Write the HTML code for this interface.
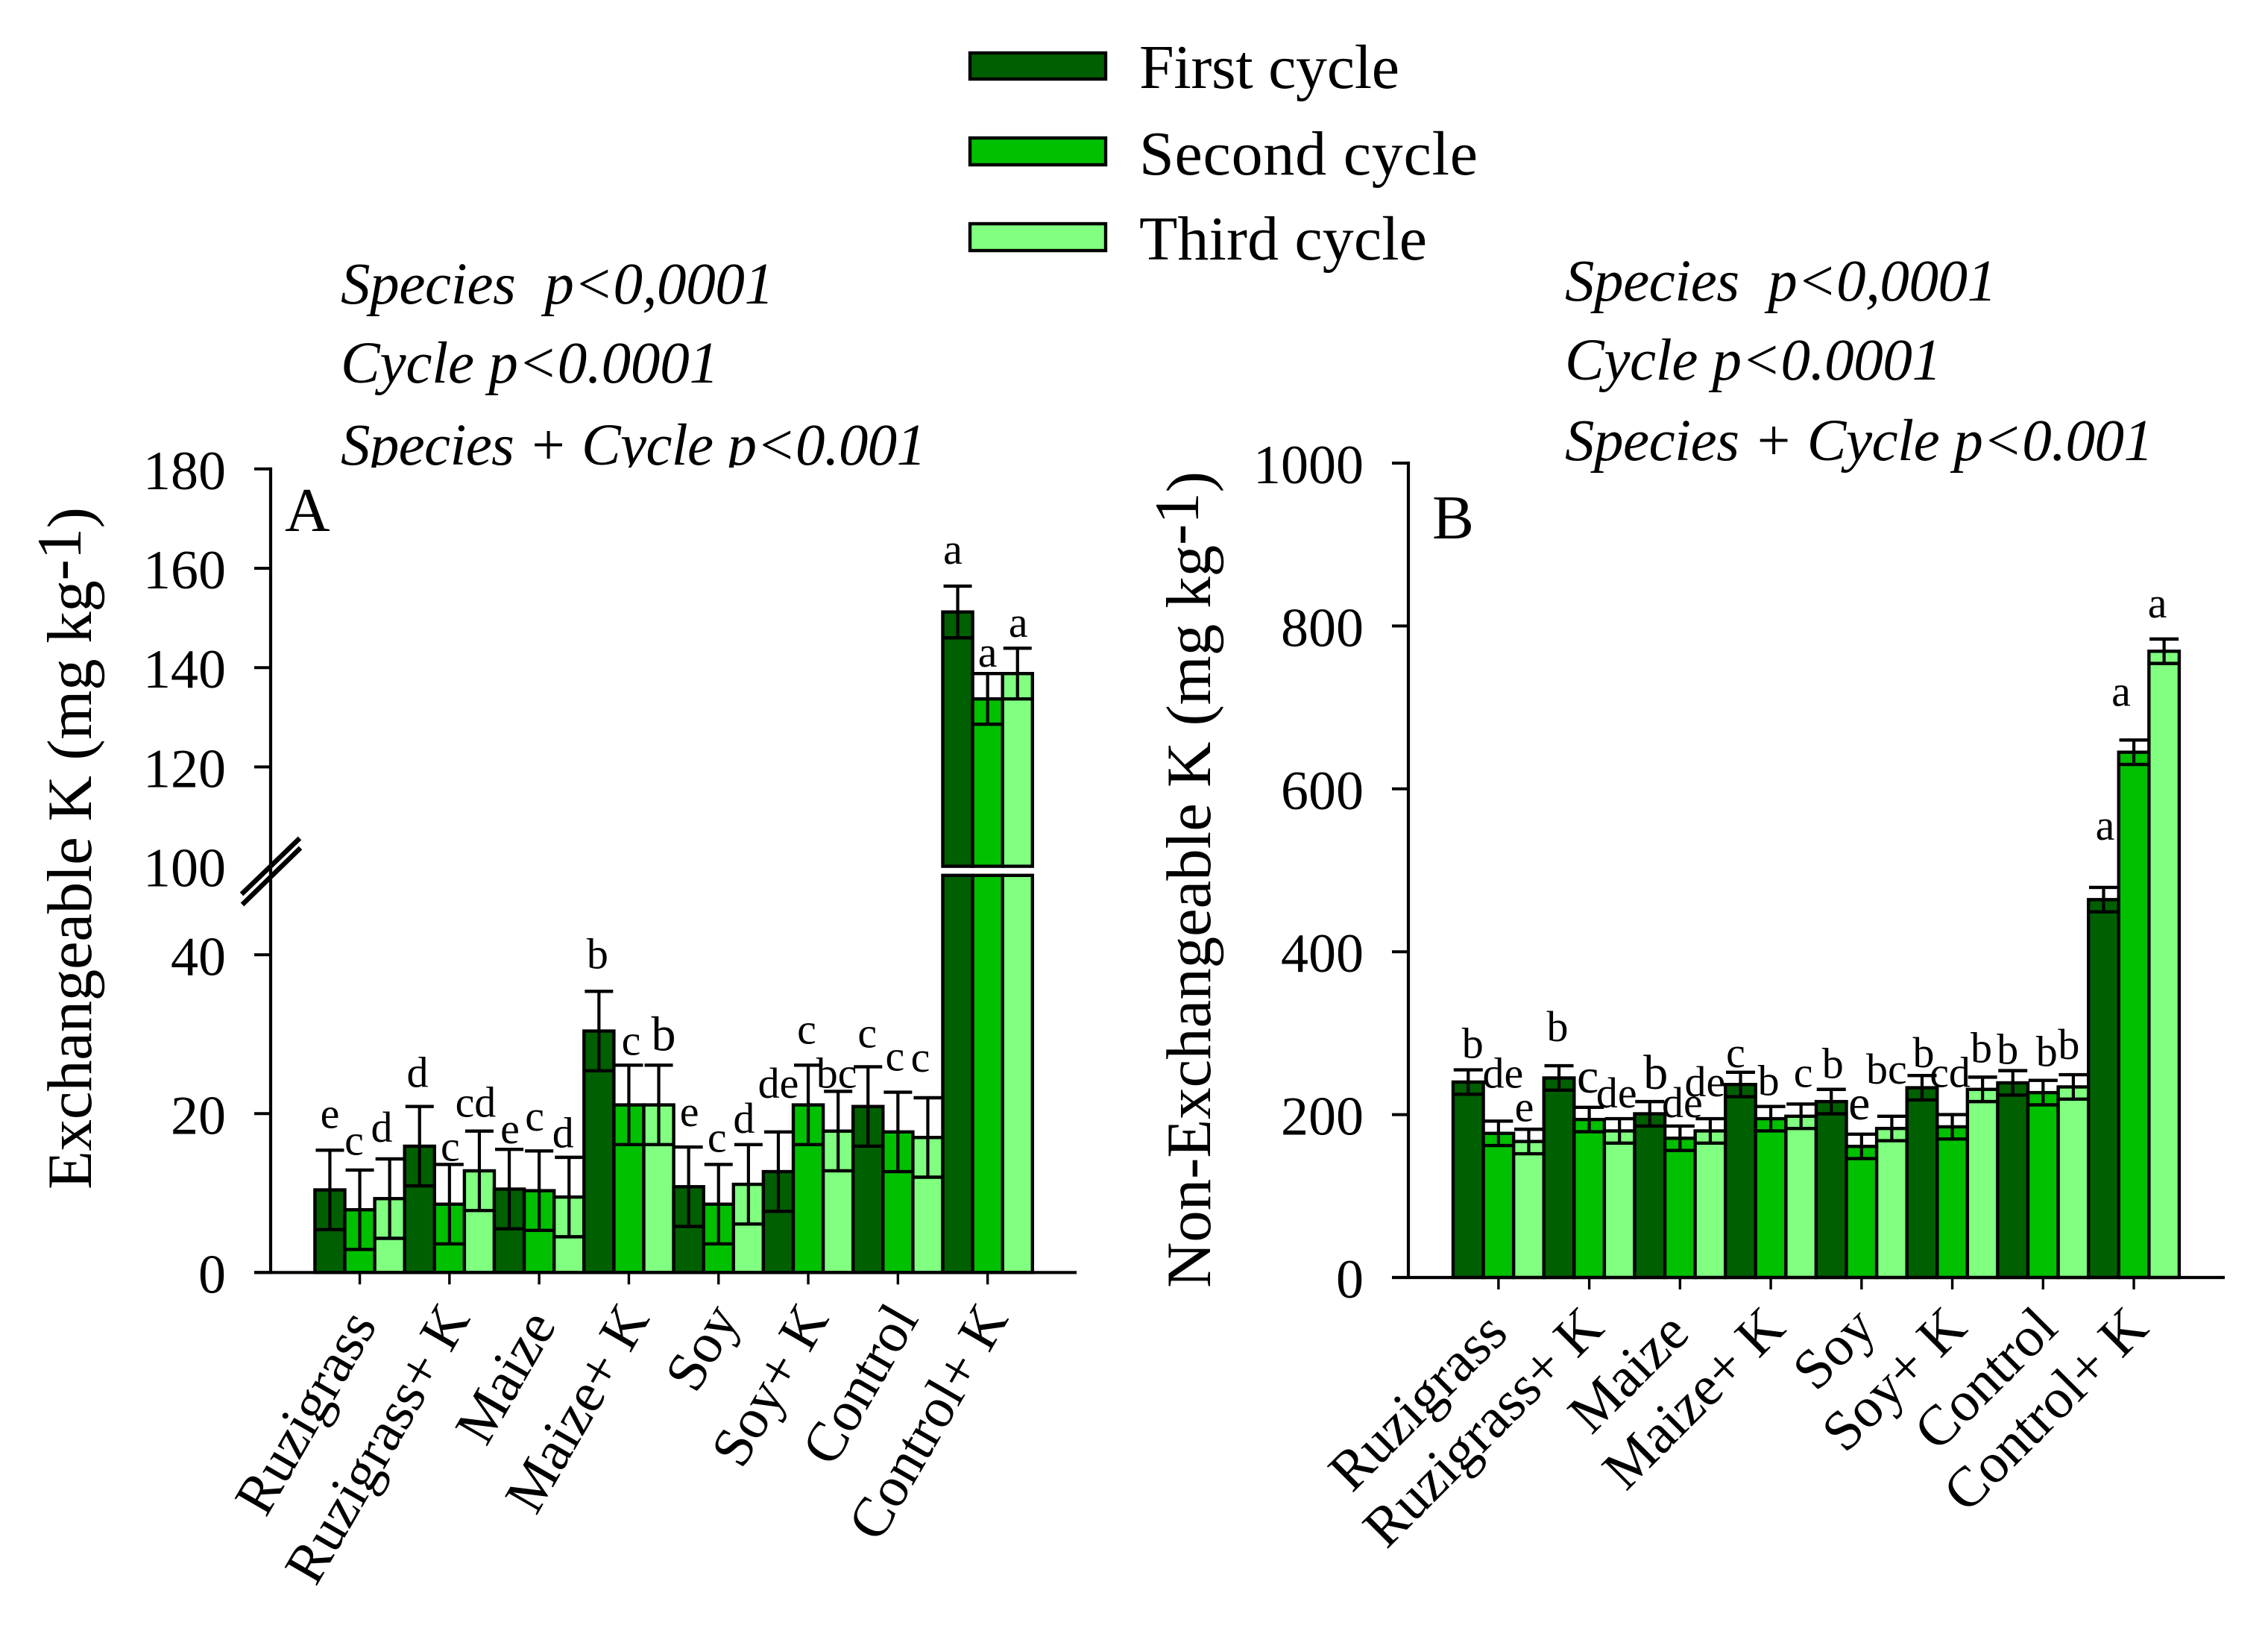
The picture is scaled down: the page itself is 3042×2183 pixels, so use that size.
<!DOCTYPE html>
<html lang="en">
<head>
<meta charset="utf-8">
<title>Exchangeable and non-exchangeable K by species and cycle</title>
<style>
  html, body { margin: 0; padding: 0; background: #fff; }
  svg { display: block; }
  text { font-family: "Liberation Serif", serif; fill: #000; }
  .note { font-size: 79px; font-style: italic; }
  .legend-text { font-size: 84px; }
  .axis-title { font-size: 85px; }
  .panel-letter { font-size: 84px; }
</style>
</head>
<body>
<svg id="chart" xmlns="http://www.w3.org/2000/svg" width="3042" height="2183" viewBox="0 0 3042 2183">
  <rect x="0" y="0" width="3042" height="2183" fill="#ffffff"/>
  <defs>
    <clipPath id="note-clip"><rect x="400" y="500" width="1000" height="127"/></clipPath>
  </defs>

  <g>
    <g>
      <rect x="1301" y="71" width="182" height="35" fill="#005F00" stroke="#000" stroke-width="4.4"/>
      <text class="legend-text" x="1528" y="118" textLength="349">First cycle</text>
    </g>
    <g>
      <rect x="1301" y="185" width="182" height="36" fill="#00C000" stroke="#000" stroke-width="4.4"/>
      <text class="legend-text" x="1528" y="234" textLength="454">Second cycle</text>
    </g>
    <g>
      <rect x="1301" y="300" width="182" height="36" fill="#80FF80" stroke="#000" stroke-width="4.4"/>
      <text class="legend-text" x="1528" y="348" textLength="386">Third cycle</text>
    </g>
  </g>

  <g>
    <text class="note" x="457" y="407" textLength="581">Species&#160;&#160;p&lt;0,0001</text>
    <text class="note" x="457" y="513" textLength="507">Cycle p&lt;0.0001</text>
    <g clip-path="url(#note-clip)">
      <text class="note" x="457" y="623" textLength="785">Species + Cycle p&lt;0.001</text>
    </g>
  </g>
  <g>
    <text class="note" x="2099" y="403" textLength="579">Species&#160;&#160;p&lt;0,0001</text>
    <text class="note" x="2099" y="509" textLength="505">Cycle p&lt;0.0001</text>
    <text class="note" x="2099" y="617" textLength="789">Species + Cycle p&lt;0.001</text>
  </g>

  <text class="axis-title" transform="translate(122,1595) rotate(-90)" textLength="915">Exchangeable K (mg kg<tspan dy="-14">-1</tspan><tspan dy="14">)</tspan></text>
  <text class="axis-title" transform="translate(1623,1727) rotate(-90)" textLength="1095">Non-Exchangeable K (mg kg<tspan dy="-16">-1</tspan><tspan dy="16">)</tspan></text>

  <text class="panel-letter" x="382" y="712">A</text>
  <text class="panel-letter" x="1921" y="722">B</text>

  <g id="panel-a"></g>
  <g id="panel-b"></g>

  <g>
    <line x1="324" y1="1199" x2="402" y2="1124" stroke="#000" stroke-width="6.5"/>
    <line x1="325" y1="1213" x2="403" y2="1137" stroke="#000" stroke-width="6.5"/>
  </g>
</svg>

<script>
const categories = ['Ruzigrass', 'Ruzigrass+ K', 'Maize', 'Maize+ K', 'Soy', 'Soy+ K', 'Control', 'Control+ K'];

const exchFirst = [10.4, 15.9, 10.5, 30.4, 10.8, 12.7, 20.9, 151.2];
const exchSecond = [7.9, 8.6, 10.3, 21.1, 8.6, 21.1, 17.7, 133.7];
const exchThird = [9.3, 12.8, 9.5, 21.1, 11.1, 17.8, 17.0, 138.8];
const exchErrFirst = [5.0, 5.0, 5.0, 5.0, 5.0, 5.0, 5.0, 5.2];
const exchErrSecond = [5.0, 5.0, 5.0, 5.0, 5.0, 5.0, 5.0, 5.1];
const exchErrThird = [5.0, 5.0, 5.0, 5.0, 5.0, 5.0, 5.0, 5.1];
const exchLetters = ['e','c','d', 'd','c','cd', 'e','c','d', 'b','c','b', 'e','c','d', 'de','c','bc', 'c','c','c', 'a','a','a'];
const exchTicks = [0, 20, 40, 120, 140, 160, 180];
const exchTickLabels = ['0', '20', '40', '100', '120', '140', '160', '180'];

const nonExchFirst = [240, 245, 201, 237, 216, 233, 239, 464];
const nonExchSecond = [177, 194, 171, 195, 161, 185, 227, 645];
const nonExchThird = [167, 180, 180, 198, 183, 231, 234, 769];
const nonExchErrFirst = [15, 15, 15, 15, 15, 15, 15, 15];
const nonExchErrSecond = [15, 15, 15, 15, 15, 15, 15, 15];
const nonExchErrThird = [15, 15, 15, 15, 15, 15, 15, 15];
const nonExchLetters = ['b','de','e', 'b','c','de', 'b','de','de', 'c','b','c', 'b','e','bc', 'b','cd','b', 'b','b','b', 'a','a','a'];
const nonExchTicks = [0, 200, 400, 600, 800, 1000];
const nonExchTickLabels = ['0', '200', '400', '600', '800', '1000'];

const seriesNames = ['first', 'second', 'third'];
const seriesFills = ['#005F00', '#00C000', '#80FF80'];
const SVG_NS = 'http://www.w3.org/2000/svg';

function yExch(v) {
  return v <= 50 ? 1706.3 - 10.65 * v : 1161.6 - 6.66 * (v - 100);
}
function yNonExch(v) {
  return 1713 - 1.092 * v;
}
function shape(tag, attrs, parent) {
  const el = document.createElementNS(SVG_NS, tag);
  for (const k in attrs) el.setAttribute(k, attrs[k]);
  parent.appendChild(el);
  return el;
}

function drawPanel(p) {
  const root = document.getElementById(p.id);
  const xBar = (g, s) => p.left + (g * 3 + s) * p.band;
  const xTick = g => p.left + (g * 3 + 1.5) * p.band;

  categories.forEach((cat, g) => {
    p.series.forEach((vals, s) => {
      const v = vals[g];
      const e = p.errors[s][g];
      const cx = xBar(g, s) + p.band / 2;

      const group = shape('g', {}, root);
      
      

      const segments = p.hasBreak && v > 100
        ? [[p.y(0), p.y(50)], [p.y(100), p.y(v)]]
        : [[p.y(0), p.y(v)]];
      segments.forEach(seg => {
        const bar = shape('rect', {
          x: xBar(g, s), y: seg[1], width: p.band, height: seg[0] - seg[1],
          fill: seriesFills[s], stroke: '#000', 'stroke-width': 4.4
        }, group);
        
        
      });

      const yHi = p.y(v + e);
      const yLo = p.y(v - e);
      const stem = shape('line', { x1: cx, x2: cx, y1: yHi, y2: yLo, stroke: '#000', 'stroke-width': 4.2 }, group);
      
      
      const capHi = shape('line', { x1: cx - p.cap / 2, x2: cx + p.cap / 2, y1: yHi, y2: yHi, stroke: '#000', 'stroke-width': 4.4 }, group);
      
      
      const capLo = shape('line', { x1: cx - p.cap / 2, x2: cx + p.cap / 2, y1: yLo, y2: yLo, stroke: '#000', 'stroke-width': 4.4 }, group);
      
      
    });
  });

  p.letters.forEach((letter, idx) => {
    const g = Math.floor(idx / 3);
    const s = idx % 3;
    const v = p.series[s][g];
    const e = p.errors[s][g];
    const t = shape('text', {
      x: xBar(g, s) + p.band / 2 + p.offsets[idx][0],
      y: p.y(v + e) + p.offsets[idx][1],
      'text-anchor': 'middle',
      'font-size': p.bigLetters.includes(idx) ? 66 : 58
    }, root);
    t.textContent = letter;
    
    
  });

  const yAxis = shape('line', { x1: p.axisX, x2: p.axisX, y1: p.y(p.ticks[p.ticks.length - 1]) - 2.1, y2: p.y(0), stroke: '#000', 'stroke-width': 4.2 }, root);
  
  
  const xAxis = shape('line', { x1: p.axisX - 22, x2: p.axisEnd, y1: p.y(0), y2: p.y(0), stroke: '#000', 'stroke-width': 4.2 }, root);
  
  

  p.ticks.forEach(v => {
    const tick = shape('line', { x1: p.axisX - 22, x2: p.axisX, y1: p.y(v), y2: p.y(v), stroke: '#000', 'stroke-width': 4 }, root);
    
    
  });
  p.tickLabels.forEach(lbl => {
    const v = Number(lbl);
    const t = shape('text', {
      x: p.labelRight, y: p.y(v) + 27, 'text-anchor': 'end', 'font-size': 74
    }, root);
    t.textContent = lbl;
    
    
  });

  categories.forEach((cat, g) => {
    const tx = xTick(g);
    const tick = shape('line', { x1: tx, x2: tx, y1: p.y(0), y2: p.y(0) + 16, stroke: '#000', 'stroke-width': 3.4 }, root);
    
    
    const lab = shape('text', {
      transform: 'translate(' + (tx + p.catDx) + ',' + p.catY + ') rotate(' + p.catAngle + ')',
      x: p.catInsets[g] * -1, y: 0, 'text-anchor': 'end', 'font-size': 76
    }, root);
    lab.textContent = cat;
    
    
  });
}

drawPanel({
  id: 'panel-a', y: yExch, hasBreak: true,
  series: [exchFirst, exchSecond, exchThird],
  errors: [exchErrFirst, exchErrSecond, exchErrThird],
  letters: exchLetters, ticks: exchTicks, tickLabels: exchTickLabels,
  left: 422.4, band: 40.1, cap: 38, axisX: 363, axisEnd: 1444, labelRight: 303,
  catDx: 29, catY: 1768, catAngle: -60, catInsets: [10, 0, 10, 0, 0, 0, 0, 0],
  bigLetters: [11],
  offsets: [[0,-30],[-7.5,-20.5],[-10.6,-23],[-2.7,-26],[1,-5],[-5,-19],[1,-8],[-6,-27.5],[-8,-13.5],[-2,-31],[3,-14],[6.5,-20],[1,-28],[-2,-17],[-6,-16],[0,-46],[-2,-29],[-2,-5],[-1,-26],[-4,-29],[-10,-35],[-6.5,-30],[0,-9],[1,-15]]
});

drawPanel({
  id: 'panel-b', y: yNonExch, hasBreak: false,
  series: [nonExchFirst, nonExchSecond, nonExchThird],
  errors: [nonExchErrFirst, nonExchErrSecond, nonExchErrThird],
  letters: nonExchLetters, ticks: nonExchTicks, tickLabels: nonExchTickLabels,
  left: 1949, band: 40.58, cap: 39, axisX: 1889, axisEnd: 2984, labelRight: 1829,
  catDx: 22.5, catY: 1784, catAngle: -45, catInsets: [10, 0, 10, 0, 0, 0, 0, 0],
  bigLetters: [4, 6, 13],
  offsets: [[6,-16],[6,-45],[-6,-11],[-2,-33],[-2,-20],[-4,-15],[8,-17],[3,-12],[-7,-30],[-6.5,-7],[-3,-15],[3,-23],[2,-15],[-3,-20],[-7,-44],[2,-11],[-3,-37],[-1.6,-20],[-7,-9],[5,-19],[-6,-21],[2,-64],[-17,-46],[-9,-29]]
});
</script>
</body>
</html>
